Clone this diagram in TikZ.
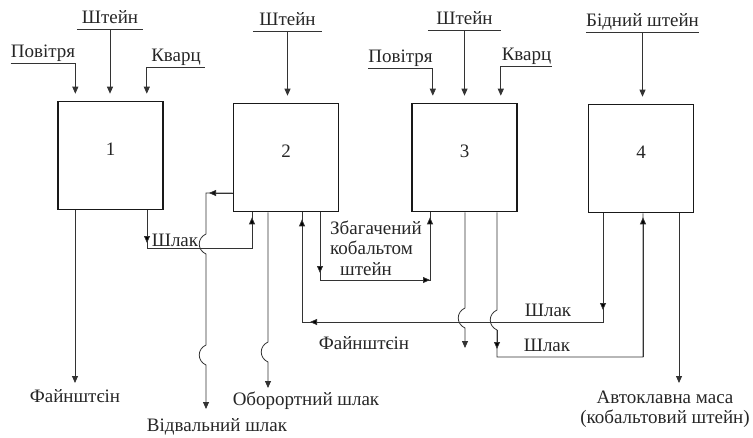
\documentclass[tikz,border=0pt]{standalone}
\usepackage{fontspec}
\setmainfont{Liberation Serif}
\usepackage{tikz}
\usetikzlibrary{arrows.meta}

\tikzset{
  lbl/.style={font=\fontsize{19}{20.5}\selectfont, text=black!85, inner sep=1pt},
  box/.style={draw=black!90, line width=1.6pt, minimum width=105pt, minimum height=108pt, lbl, text depth=12pt},
  tag/.style={lbl, anchor=south, inner xsep=0pt, inner ysep=1.5pt, text depth=4pt,
    append after command={(\tikzlastnode.south west) edge[draw=black!80, line width=.8pt] (\tikzlastnode.south east)}},
  line/.style={draw=black!80, line width=.8pt},
  flow/.style={line, -{Triangle[length=7pt,width=6pt]}},
  feed/.style={flow, shorten >=7pt},
  flowtip/.style={-{Triangle[length=7pt,width=6pt]}, shorten >=#1},
  flowtip/.default=0pt,
  hop/.style={insert path={.. controls +(-9,4) and +(-9,-4) .. ++(0,20)}},
}

\begin{document}
\begin{tikzpicture}[x=1pt,y=-1pt]
  \useasboundingbox (0,0) rectangle (753,437);

  % furnaces
  \node[box] (b1) at (110.5,155.5) {1};
  \node[box] (b2) at (286,157.5) {2};
  \node[box] (b3) at (464.5,157.5) {3};
  \node[box] (b4) at (641,158.5) {4};

  % feeds
  \node[tag, minimum width=62pt] (air1) at (43,63) {Повітря};
  \node[tag, minimum width=66pt] (matte1) at (110,29) {Штейн};
  \node[tag, minimum width=58pt] (quartz1) at (176,67) {Кварц};
  \node[tag, minimum width=69pt] (matte2) at (287.5,31) {Штейн};
  \node[tag, minimum width=61pt] (air3) at (400.5,68) {Повітря};
  \node[tag, minimum width=73pt] (matte3) at (464.5,30) {Штейн};
  \node[tag, minimum width=51pt] (quartz3) at (526.5,66) {Кварц};
  \node[tag, minimum width=111pt] (poor4) at (642.5,32) {Бідний штейн};
  \draw[feed] (air1.south east) -- (air1.south east |- b1.north);
  \draw[feed] (matte1.south) -- (matte1.south |- b1.north);
  \draw[feed] (quartz1.south west) -- (quartz1.south west |- b1.north);
  \draw[feed] (matte2.south) -- (matte2.south |- b2.north);
  \draw[feed] (air3.south east) -- (air3.south east |- b3.north);
  \draw[feed] (matte3.south) -- (matte3.south |- b3.north);
  \draw[feed] (quartz3.south west) -- (quartz3.south west |- b3.north);
  \draw[feed] (poor4.south) -- (poor4.south |- b4.north);

  % furnace 1 products
  \coordinate (p1) at (75,383);
  \draw[flow] (b1.south -| p1) -- (p1);
  \node[lbl] (fine1) at (75,396) {Файнштєін};
  \coordinate (s1a) at (147,248);
  \coordinate (s1b) at (252,248);
  \draw[line] (b1.south -| s1a) -- (s1a) -- (s1b) -- (s1b |- b2.south)
    (b1.south -| s1a) edge[flowtip=5pt] (s1a)
    (s1b) edge[flowtip=5pt] (s1b |- b2.south);
  \node[lbl] (slag1) at (175,240) {Шлак};

  % furnace 2 products
  \coordinate (w1) at (206,193);
  \coordinate (w2) at (206,409);
  \draw[line] (b2.west |- w1) edge[flowtip=3pt] (w1);
  \draw[flow] (b2.west |- w1) -- (w1) -- (w1 |- 0,234) [hop] -- (w1 |- 0,345) [hop] -- (w2);
  \node[lbl] (dump) at (217,427) {Відвальний шлак};
  \coordinate (r2) at (268,388);
  \draw[flow] (b2.south -| r2) -- (r2 |- 0,342) [hop] -- (r2);
  \node[lbl] (recyc) at (306,401) {Оборортний шлак};
  \coordinate (e1) at (320,280);
  \coordinate (e2) at (430,280);
  \draw[line] (b2.south -| e1) -- (e1) -- (e2) -- (e2 |- b3.south)
    (b2.south -| e1) edge[flowtip=7pt] (e1)
    (e1) edge[flowtip] (e2)
    (e2) edge[flowtip=5pt] (e2 |- b3.south);
  \node[lbl, align=left] (rich) at (376,248) {Збагачений\\кобальтом\\\hspace{10pt}штейн};

  % return from furnace 4
  \coordinate (f1) at (603,322);
  \coordinate (f2) at (302,322);
  \draw[line] (b4.south -| f1) -- (f1) -- (f2) -- (f2 |- b2.south)
    (b4.south -| f1) edge[flowtip=12pt] (f1)
    (f1) edge[flowtip=8pt] (f2)
    (f2) edge[flowtip=7pt] (f2 |- b2.south);
  \node[lbl] (slag4) at (548,310) {Шлак};
  \node[lbl] (fine3) at (364,343) {Файнштєін};

  % furnace 3 products
  \coordinate (m3) at (465,348);
  \draw[flow] (b3.south -| m3) -- (m3 |- 0,308) [hop] -- (m3);
  \coordinate (s3a) at (497,357);
  \coordinate (s3b) at (643,357);
  \draw[line] (b3.south -| s3a) -- (s3a |- 0,310) [hop] -- (s3a) -- (s3b) -- (s3b |- b4.south)
    (s3a |- 0,330) edge[flowtip=8pt] (s3a)
    (s3b) edge[flowtip=4pt] (s3b |- b4.south);
  \node[lbl] (slag3) at (547,345) {Шлак};

  % furnace 4 product
  \coordinate (a4) at (679,383);
  \draw[flow] (b4.south -| a4) -- (a4);
  \node[lbl, align=center] (auto) at (665,409) {Автоклавна маса\\(кобальтовий штейн)};
\end{tikzpicture}
\end{document}
